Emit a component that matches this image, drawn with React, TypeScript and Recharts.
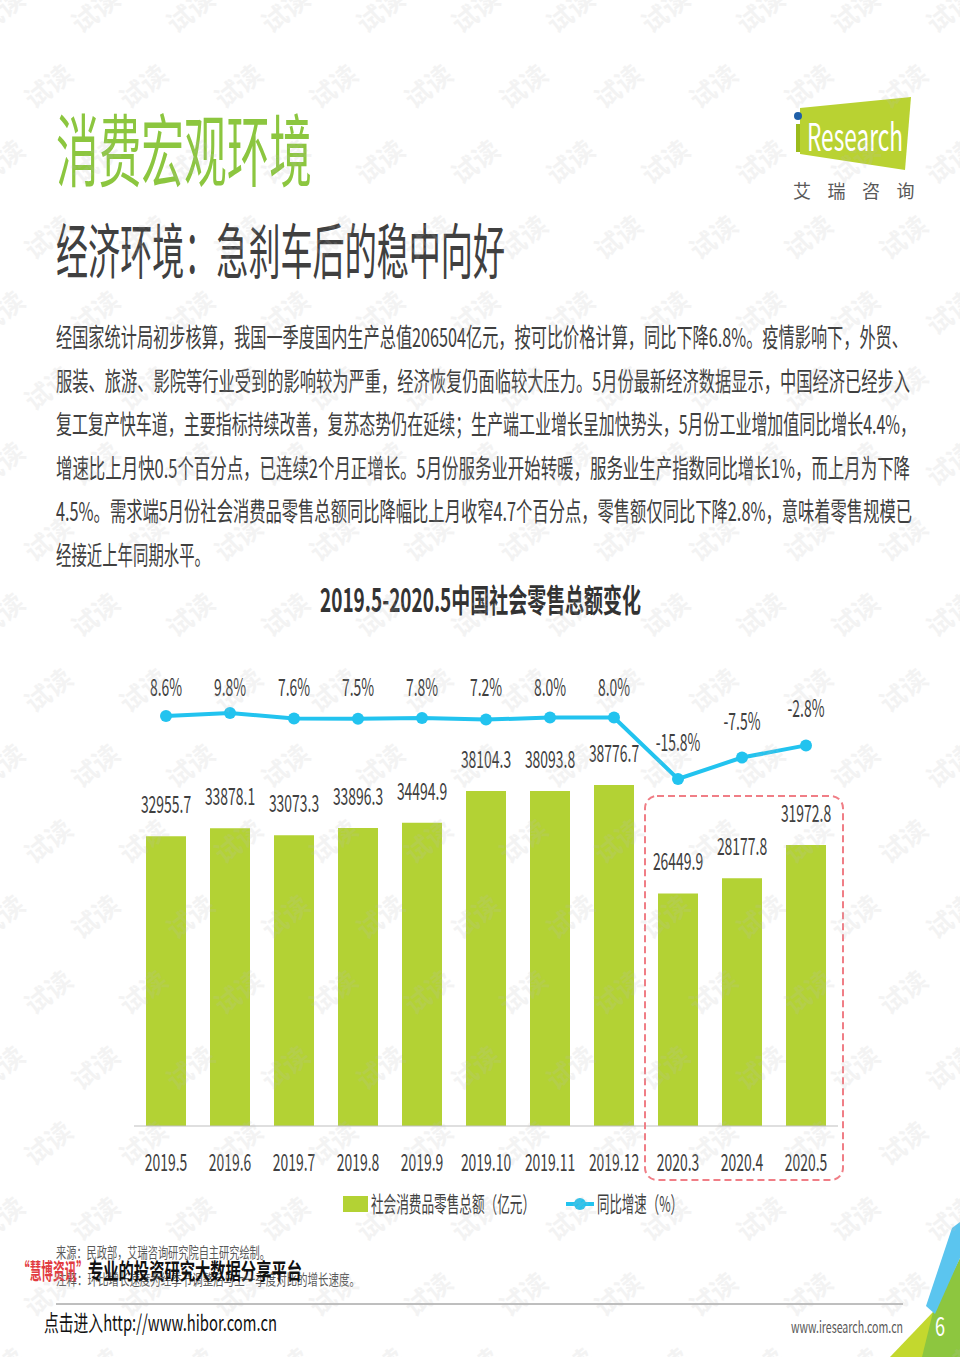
import React from 'react';
import { ComposedChart, Bar, Line, XAxis, YAxis, LabelList } from 'recharts';

const months = ['2019.5', '2019.6', '2019.7', '2019.8', '2019.9', '2019.10', '2019.11', '2019.12', '2020.3', '2020.4', '2020.5'];
const retail = [32955.7, 33878.1, 33073.3, 33896.3, 34494.9, 38104.3, 38093.8, 38776.7, 26449.9, 28177.8, 31972.8];
const growth = [8.6, 9.8, 7.6, 7.5, 7.8, 7.2, 8.0, 8.0, -15.8, -7.5, -2.8];

const paragraph = [
  '经国家统计局初步核算，我国一季度国内生产总值206504亿元，按可比价格计算，同比下降6.8%。疫情影响下，外贸、',
  '服装、旅游、影院等行业受到的影响较为严重，经济恢复仍面临较大压力。5月份最新经济数据显示，中国经济已经步入',
  '复工复产快车道，主要指标持续改善，复苏态势仍在延续；生产端工业增长呈加快势头，5月份工业增加值同比增长4.4%，',
  '增速比上月快0.5个百分点，已连续2个月正增长。5月份服务业开始转暖，服务业生产指数同比增长1%，而上月为下降',
  '4.5%。需求端5月份社会消费品零售总额同比降幅比上月收窄4.7个百分点，零售额仅同比下降2.8%，意味着零售规模已',
  '经接近上年同期水平。',
];
const paraWidths = [852, 854, 860, 854, 856, 154];

const data = months.map((m, i) => ({ month: m, retail: retail[i], growth: growth[i] }));

const FONT = '"Noto Sans CJK SC", "Noto Sans", sans-serif';
const BAR = '#b3d234';
const LINE = '#22c3ef';
const TEXT = '#404040';
const SX = 0.58;

function CText({ x, y, children, size = 24, fill = TEXT, s = SX, anchor = 'middle', weight = 400 }: any) {
  return (
    <text transform={`translate(${x},${y}) scale(${s},1)`} textAnchor={anchor} fontSize={size} fill={fill} fontWeight={weight} fontFamily={FONT}>
      {children}
    </text>
  );
}

function FitText({ x, y, len, size, fill = TEXT, weight = 400, children }: any) {
  return (
    <text x={x} y={y} textLength={len} lengthAdjust="spacingAndGlyphs" fontSize={size} fill={fill} fontWeight={weight} fontFamily={FONT}>
      {children}
    </text>
  );
}

const BarLabel = (p: any) => (
  <CText x={p.x + p.width / 2} y={p.y - 23}>{Number(p.value).toFixed(1)}</CText>
);

// positive labels sit in one row like the source; negative ones float above their point
const LineLabel = (p: any) => (
  <CText x={p.x} y={p.value < 0 ? p.y - 28 : p.y - 20 + (p.value - 8.6) * 2.58}>{`${Number(p.value).toFixed(1)}%`}</CText>
);

const MonthTick = (p: any) => (
  <CText x={p.x} y={p.y + 43}>{p.payload.value}</CText>
);

function Watermarks() {
  const marks: React.ReactNode[] = [];
  for (let r = 0; r < 19; r++) {
    const y = 13 + r * 75.5;
    const x0 = r % 2 === 0 ? 97 : 50;
    for (let k = -1; k < 11; k++) {
      const x = x0 + k * 95;
      marks.push(
        <text key={`${r}-${k}`} transform={`translate(${x},${y}) rotate(-38)`} textAnchor="middle" dominantBaseline="middle"
          fontSize={26} fontWeight={700} fill="#bdbdbd" opacity={0.17} fontFamily={FONT}>试读</text>
      );
    }
  }
  return <>{marks}</>;
}

export default function App() {
  return (
    <div style={{ position: 'absolute', left: 0, top: 0, width: 960, height: 1357, background: '#fff', overflow: 'hidden' }}>
      <svg width={960} height={1357} style={{ position: 'absolute', left: 0, top: 0 }}>
        <FitText x={56} y={181} len={256} size={79} fill="#8cc63f">消费宏观环境</FitText>
        <FitText x={56} y={274} len={449} size={60} fill={TEXT}>经济环境：急刹车后的稳中向好</FitText>

        {/* logo */}
        <polygon points="800,108 911,97 905,170 800,154" fill="#b9d232" />
        <circle cx={798} cy={116} r={4} fill="#1f5fa8" />
        <rect x={796} y={124} width={4} height={28} fill="#9bbb1c" />
        <FitText x={807} y={151} len={96} size={38} fill="#ffffff">Research</FitText>
        {['艾', '瑞', '咨', '询'].map((c, i) => (
          <text key={c} x={802 + i * 34.5} y={198} textAnchor="middle" fontSize={18} fill="#595959" fontFamily={FONT}>{c}</text>
        ))}

        {paragraph.map((line, i) => (
          <FitText key={i} x={56} y={347 + i * 43.5} len={paraWidths[i]} size={26}>{line}</FitText>
        ))}

        <FitText x={320} y={612} len={321} size={32} weight={700} fill="#333333">2019.5-2020.5中国社会零售总额变化</FitText>

        {/* legend */}
        <rect x={343} y={1196} width={25} height={16} fill={BAR} />
        <FitText x={371} y={1212} len={164} size={22}>社会消费品零售总额（亿元）</FitText>
        <line x1={566} y1={1204} x2={594} y2={1204} stroke={LINE} strokeWidth={4} />
        <circle cx={580} cy={1204} r={6} fill={LINE} />
        <FitText x={597} y={1212} len={86} size={22}>同比增速（%）</FitText>

        {/* footer */}
        <FitText x={56} y={1258} len={214} size={15} fill="#595959">来源：民政部，艾瑞咨询研究院自主研究绘制。</FitText>
        <FitText x={56} y={1285} len={304} size={15} fill="#595959">注释：环比增长速度为经季节调整后与上一季度对比的增长速度。</FitText>
        <FitText x={18} y={1279} len={70} size={22} weight={700} fill="#e23b3f">“慧博资讯”</FitText>
        <FitText x={88} y={1279} len={214} size={22} weight={700} fill="#111111">专业的投资研究大数据分享平台</FitText>
        <line x1={56} y1={1304} x2={903} y2={1304} stroke="#7f7f7f" strokeWidth={1} />
        <FitText x={44} y={1331} len={233} size={22} fill="#111111">点击进入http://www.hibor.com.cn</FitText>
        <FitText x={791} y={1333} len={112} size={16} fill="#595959">www.iresearch.com.cn</FitText>

        {/* corner */}
        <polygon points="890,1357 933,1312 960,1296 960,1357" fill="#c3d82e" />
        <polygon points="933,1312 960,1258 960,1357 922,1357" fill="#8dc63f" />
        <polygon points="952,1228 960,1222 960,1258 935,1314 926,1306" fill="#5bc5ef" />
        <CText x={940} y={1336} size={26} fill="#ffffff" s={0.7}>6</CText>
      </svg>

      <div style={{ position: 'absolute', left: 0, top: 600 }}>
        <ComposedChart width={960} height={640} data={data} margin={{ top: 60, right: 122, bottom: 84, left: 134 }} barCategoryGap={24}>
          <XAxis dataKey="month" height={30} axisLine={{ stroke: '#bfbfbf', strokeWidth: 1 }} tickLine={false} tickSize={0} tick={MonthTick} interval={0} />
          <YAxis yAxisId="left" hide domain={[0, 53000]} />
          <YAxis yAxisId="right" hide orientation="right" domain={[-150.3, 30.3]} />
          <Bar yAxisId="left" dataKey="retail" fill={BAR} barSize={40} isAnimationActive={false}>
            <LabelList dataKey="retail" content={BarLabel} />
          </Bar>
          <Line yAxisId="right" type="linear" dataKey="growth" stroke={LINE} strokeWidth={4}
            dot={{ r: 6, fill: LINE, stroke: LINE, strokeWidth: 0 }} activeDot={false} isAnimationActive={false}>
            <LabelList dataKey="growth" content={LineLabel} />
          </Line>
        </ComposedChart>
      </div>

      <svg width={960} height={1357} style={{ position: 'absolute', left: 0, top: 0, pointerEvents: 'none' }}>
        <rect x={645} y={796} width={198} height={384} rx={12} fill="none" stroke="#f07e86" strokeWidth={2} strokeDasharray="7 4" />
        <Watermarks />
      </svg>
    </div>
  );
}
